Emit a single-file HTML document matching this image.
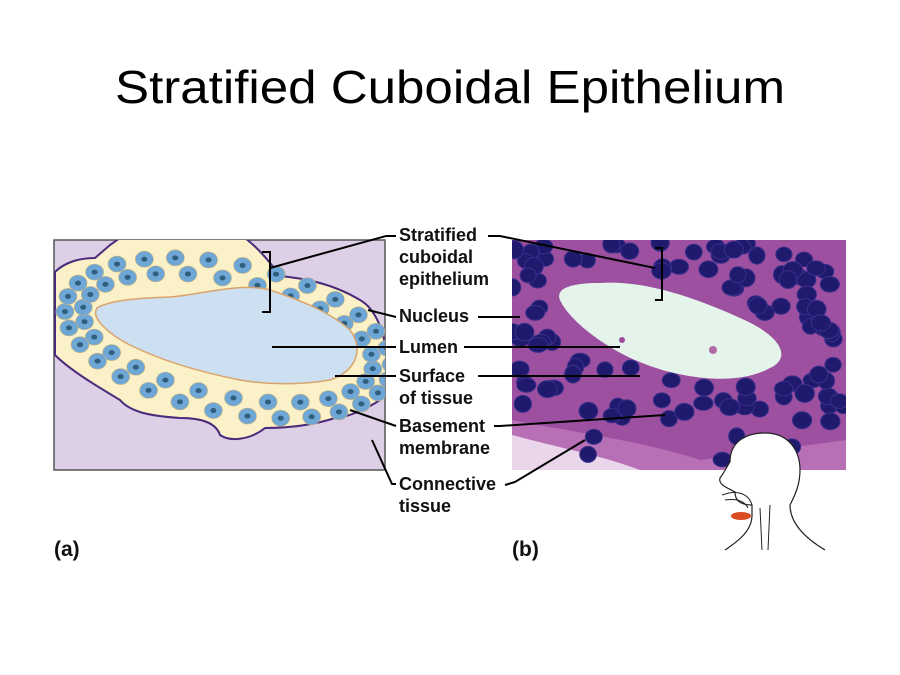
<!DOCTYPE html>
<html><head><meta charset="utf-8"><style>
html,body{margin:0;padding:0;background:#fff;}
svg{display:block}
</style></head><body>
<svg id="s" width="900" height="675" viewBox="0 0 900 675" xmlns="http://www.w3.org/2000/svg">
<text x="115" y="103" textLength="670" lengthAdjust="spacingAndGlyphs" font-family="Liberation Sans, sans-serif" font-size="46" fill="#000">Stratified Cuboidal Epithelium</text>
<defs>
<clipPath id="ca"><rect x="54" y="240" width="331" height="230"/></clipPath>
<clipPath id="cb"><rect x="512" y="240" width="334" height="230"/></clipPath>
</defs>
<rect x="54" y="240" width="331" height="230" fill="#dccfe6" stroke="#555" stroke-width="1.5"/>
<g clip-path="url(#ca)">
<path d="M55,272 C65,262 80,258 95,258 L110,245 L120,238 L245,238 C258,248 270,262 280,276 C300,278 330,282 360,300 C392,318 392,392 380,400 C365,410 345,418 335,418 C310,426 285,428 265,428 C250,440 230,442 220,435 C215,420 195,418 180,418 C150,416 130,412 120,400 C95,385 70,370 55,355 Z" fill="#fbf1c8" stroke="#4a2a7a" stroke-width="2"/>
<g id="cellsA"></g>
</g>
<path d="M97,308 C110,300 140,298 170,297 C200,295 240,282 270,290 C300,300 330,312 350,330 C365,350 355,372 330,380 C300,385 270,385 240,380 C200,372 160,360 130,345 C110,335 90,318 97,308 Z" fill="#cde0f2" stroke="#d9a36a" stroke-width="1.5"/>
<rect x="512" y="240" width="334" height="230" fill="#9d4fa0"/>
<g clip-path="url(#cb)">
<path d="M512,420 C560,430 640,440 700,460 L846,440 L846,470 L512,470 Z" fill="#b770b5"/>
<path d="M512,435 C560,448 600,455 640,470 L512,470 Z" fill="#e9d6ea"/>
<g id="cellsB"></g>
<path d="M560,300 C555,288 572,283 600,283 C640,280 690,295 740,318 C782,336 792,358 770,368 C740,385 690,380 650,366 C610,352 570,322 560,300 Z" fill="#e4f4ea"/>
<circle cx="622" cy="340" r="3" fill="#a04a9e"/><circle cx="713" cy="350" r="4" fill="#b06aa8"/>
</g>
<g fill="#fff" stroke="#222" stroke-width="1.2">
<path d="M725,550 C740,540 752,530 752,515 L752,505 C740,505 735,500 735,492 C728,488 718,485 720,478 C726,470 727,466 730,462 C730,440 748,433 765,433 C790,433 800,452 800,470 C800,485 795,495 790,505 C790,520 800,535 825,550" />
</g>
<path d="M722,495 C735,490 748,492 752,505 M725,500 C738,498 745,502 748,508" fill="none" stroke="#222" stroke-width="1"/>
<ellipse cx="741" cy="516" rx="10" ry="4" fill="#d94a20"/>
<path d="M760,508 L762,550 M770,505 L768,550" stroke="#222" stroke-width="1" fill="none"/>
<g stroke="#000" stroke-width="2" fill="none">
<path d="M262,252 L270,252 L270,312 L262,312"/>
<path d="M655,248 L662,248 L662,300 L655,300"/>
<path d="M270,268 L386,236 L396,236"/>
<path d="M488,236 L500,236 L655,268"/>
<path d="M368,310 L396,317"/><path d="M478,317 L520,317"/>
<path d="M272,347 L396,347"/><path d="M464,347 L620,347"/>
<path d="M335,376 L396,376"/><path d="M478,376 L640,376"/>
<path d="M350,410 L396,426"/><path d="M494,426 L500,426 L665,415"/>
<path d="M372,440 L392,484 L396,484"/><path d="M505,485 L515,482 L585,440"/>
</g>
<g font-family="Liberation Sans, sans-serif" font-weight="bold" font-size="18" fill="#111">
<text x="399" y="241">Stratified</text>
<text x="399" y="263">cuboidal</text>
<text x="399" y="285">epithelium</text>
<text x="399" y="322">Nucleus</text>
<text x="399" y="353">Lumen</text>
<text x="399" y="382">Surface</text>
<text x="399" y="404">of tissue</text>
<text x="399" y="432">Basement</text>
<text x="399" y="454">membrane</text>
<text x="399" y="490">Connective</text>
<text x="399" y="512">tissue</text>
<text x="54" y="556" font-size="21">(a)</text>
<text x="512" y="556" font-size="21">(b)</text>
</g>
</svg>
<script>
var NS="http://www.w3.org/2000/svg";
function el(p,t,a){var e=document.createElementNS(NS,t);for(var k in a)e.setAttribute(k,a[k]);p.appendChild(e);return e;}
var A=document.getElementById("cellsA");
var cx=228,cy=338;
function ring(rx,ry,n,rot,s){for(var i=0;i<n;i++){var t=i/n*Math.PI*2+s;var x=cx+rx*Math.cos(t),y=cy+ry*Math.sin(t);
var r=rot*Math.PI/180;var X=cx+(x-cx)*Math.cos(r)-(y-cy)*Math.sin(r),Y=cy+(x-cx)*Math.sin(r)+(y-cy)*Math.cos(r);
el(A,"ellipse",{cx:X,cy:Y,rx:9,ry:8,fill:"#6ea6d6",stroke:"#c9b27a","stroke-width":0.6});
el(A,"ellipse",{cx:X,cy:Y,rx:3,ry:2.5,fill:"#2f5f7c"});}}
ring(148,58,26,12,0);ring(166,74,30,12,0.1);
var B=document.getElementById("cellsB");
var seed=3;function rnd(){seed=(seed*9301+49297)%233280;return seed/233280;}
for(var i=0;i<200;i++){var x=512+rnd()*334,y=240+rnd()*230;
var dx=(x-672)/125,dy=(y-328-(x-672)*0.22)/50;var d=dx*dx+dy*dy;if(d<1.05||d>5&&rnd()<0.75)continue;if(y>425&&rnd()<0.7)continue;
el(B,"ellipse",{cx:x,cy:y,rx:8+rnd()*2,ry:7+rnd()*2,fill:"#1f1a6e",stroke:"#3a2f8a","stroke-width":1});}
</script>
</body></html>
